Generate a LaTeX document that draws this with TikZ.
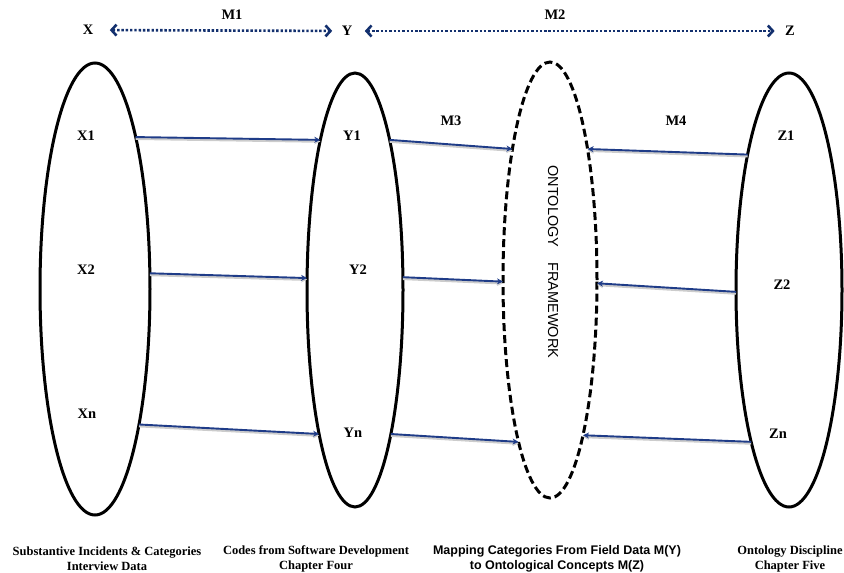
\documentclass[tikz,border=0pt]{standalone}
\usepackage{fontspec}
\setmainfont{Liberation Serif}
\newfontfamily\arialfont{Liberation Sans}
\usetikzlibrary{arrows.meta,shapes.geometric}

\begin{document}
\begin{tikzpicture}[x=1pt, y=-1pt,
    set/.style={draw, ellipse, line width=3pt, outer sep=0pt, inner sep=0pt},
    frameSet/.style={set, dash pattern=on 8pt off 4pt},
    item/.style={font=\bfseries\fontsize{14.5}{16}\selectfont},
    caption/.style={font=\bfseries\fontsize{12.5}{15}\selectfont, align=center},
    mapArrow/.style={draw=arrowBlue, line width=1.9pt, -{Stealth[length=6pt,width=6pt]},
        preaction={draw=shadowGrey, line width=2.6pt, transform canvas={yshift=-1.6pt}}},
    relArrow/.style={draw=dotBlue, line width=2.6pt, dash pattern=on 2.4pt off 1.9pt,
        {Straight Barb[length=5pt,width=11pt,line width=2.6pt]}-{Straight Barb[length=5pt,width=11pt,line width=2.6pt]}}]
    \definecolor{arrowBlue}{HTML}{1F3C88}
    \definecolor{dotBlue}{HTML}{13306E}
    \definecolor{shadowGrey}{HTML}{CCCCCC}

    \useasboundingbox (0,0) rectangle (844,573);

    % Sets
    \node[set, minimum width=110, minimum height=452] (setX) at (95,289) {};
    \node[set, minimum width=96, minimum height=434] (setY) at (355,290) {};
    \node[frameSet, minimum width=94, minimum height=436] (setO) at (550,280) {};
    \node[set, minimum width=106, minimum height=434] (setZ) at (789,290) {};

    % Top labels and relations
    \node[item] (labX) at (88,30) {X};
    \node[item] (labY) at (347,31) {Y};
    \node[item] (labZ) at (790,31) {Z};
    \node[item] (labM1) at (232,15) {M1};
    \node[item] (labM2) at (555,15) {M2};
    \node[item] (labM3) at (451,121) {M3};
    \node[item] (labM4) at (676,121) {M4};

    \draw[relArrow, shorten <=13pt, shorten >=6pt] (labX) -- (labY);
    \draw[relArrow, shorten <=9pt, shorten >=7pt] (labY) -- (labZ);

    % Elements of each set
    \foreach \name/\px/\py in {X1/86/136, X2/86/270, Xn/87/414,
                               Y1/352/136, Y2/358/270, Yn/353/433,
                               Z1/786/136, Z2/782/285, Zn/778/434}
        \node[item] (\name) at (\px,\py) {\name};

    \node[rotate=-90, font=\arialfont\fontsize{14.5}{16}\selectfont] (frameText) at (553,262)
        {ONTOLOGY\hspace{15pt}FRAMEWORK};

    % Mappings
    \foreach \s/\t in {setX.75/setY.103, setX.16/setY.166, setX.-72/setY.-104,
                       setY.77/setO.106, setY.15/setO.182, setY.-76/setO.-101,
                       setZ.107/setO.74, setZ.182/setO.-4, setZ.-104/setO.-78}
        \draw[mapArrow] (\s) -- (\t);

    % Captions
    \node[caption] (capX) at (107,559) {Substantive Incidents \& Categories\\Interview Data};
    \node[caption] (capY) at (316,559) {Codes from Software Development\\Chapter Four};
    \node[caption, font=\arialfont\bfseries\fontsize{12.5}{15}\selectfont] (capO) at (557,559)
        {Mapping Categories From Field Data M(Y)\\to Ontological Concepts M(Z)};
    \node[caption] (capZ) at (790,559) {Ontology Discipline\\Chapter Five};

\end{tikzpicture}
\end{document}
